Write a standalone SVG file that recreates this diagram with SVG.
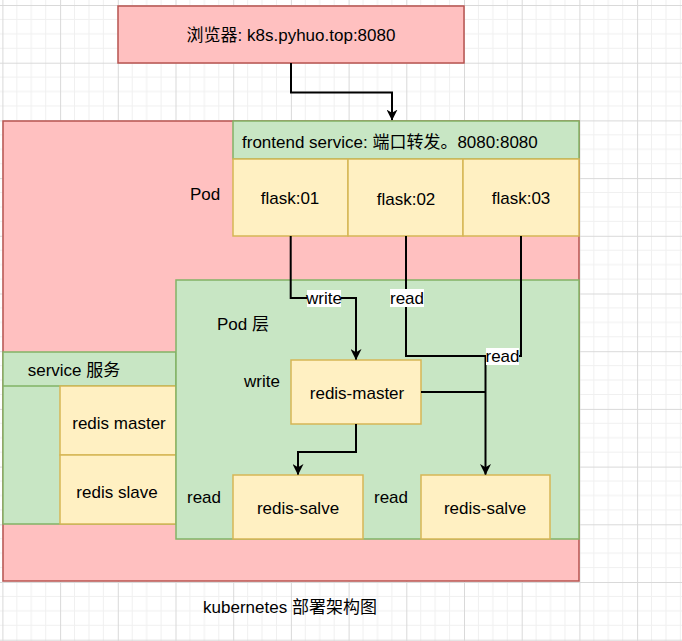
<svg xmlns="http://www.w3.org/2000/svg" width="682" height="641" viewBox="0 0 682 641">
<defs>
<pattern id="grid" patternUnits="userSpaceOnUse" x="2.4" y="5" width="57.7" height="57.7">
<path d="M14.42 0V57.7M28.85 0V57.7M43.27 0V57.7M0 14.42H57.7M0 28.85H57.7M0 43.27H57.7" stroke="#f0f0f0" stroke-width="1" fill="none"/>
<path d="M0.5 0V57.7M0 0.5H57.7" stroke="#d9d9d9" stroke-width="1" fill="none"/>
</pattern>
<marker id="arr" viewBox="0 0 10 10" refX="9.5" refY="5" markerWidth="11" markerHeight="11" markerUnits="userSpaceOnUse" orient="auto">
<path d="M0 0L10 5L0 10L3 5Z" fill="#000"/>
</marker>
<style>
.red{fill:#ffc0c0;stroke:#b85450;stroke-width:1.5}
.grn{fill:#c8e6c4;stroke:#82b366;stroke-width:1.5}
.yel{fill:#fff0c2;stroke:#d6b656;stroke-width:1.5}
text{font-family:"Liberation Sans","Noto Sans CJK SC",sans-serif;font-size:17px;fill:#000;dominant-baseline:central}
.c{text-anchor:middle}
.ln{fill:none;stroke:#000;stroke-width:2}
.lb{fill:#fff}
</style>
</defs>
<rect width="682" height="641" fill="#fff"/>
<rect width="682" height="641" fill="url(#grid)"/>

<g id="browser">
<rect class="red" x="118" y="6" width="346" height="57"/>
<text x="291" y="35" class="c">浏览器: k8s.pyhuo.top:8080</text>
</g>

<g id="k8s-cluster">
<rect class="red" x="3" y="121" width="576" height="460"/>
<text x="205" y="194" class="c">Pod</text>
</g>

<g id="frontend-service">
<rect class="grn" x="233" y="121" width="346" height="38"/>
<text x="242" y="142">frontend service: 端口转发。8080:8080</text>
</g>

<g id="flask01">
<rect class="yel" x="233" y="159" width="115" height="77"/>
<text x="290" y="198" class="c">flask:01</text>
</g>
<g id="flask02">
<rect class="yel" x="348" y="159" width="115" height="77"/>
<text x="406" y="199" class="c">flask:02</text>
</g>
<g id="flask03">
<rect class="yel" x="463" y="159" width="116" height="77"/>
<text x="521" y="198" class="c">flask:03</text>
</g>

<g id="service">
<rect class="grn" x="3" y="352" width="173" height="172"/>
<line x1="3" y1="386" x2="176" y2="386" stroke="#82b366" stroke-width="1.5"/>
<text x="74" y="370" class="c">service 服务</text>
</g>
<g id="svc-redis-master">
<rect class="yel" x="60" y="386" width="116" height="69"/>
<text x="119" y="423" class="c">redis master</text>
</g>
<g id="svc-redis-slave">
<rect class="yel" x="60" y="455" width="116" height="69"/>
<text x="117" y="492" class="c">redis slave</text>
</g>

<g id="pod-layer">
<rect class="grn" x="176" y="280" width="403" height="259"/>
<text x="243" y="324" class="c">Pod 层</text>
<text x="262" y="381" class="c">write</text>
<text x="204" y="497" class="c">read</text>
<text x="391" y="497" class="c">read</text>
</g>

<g id="redis-master">
<rect class="yel" x="291" y="360" width="130" height="64"/>
<text x="357" y="393" class="c">redis-master</text>
</g>
<g id="redis-salve-1">
<rect class="yel" x="233" y="475" width="130" height="64"/>
<text x="298" y="508" class="c">redis-salve</text>
</g>
<g id="redis-salve-2">
<rect class="yel" x="421" y="475" width="129" height="64"/>
<text x="485" y="508" class="c">redis-salve</text>
</g>

<g id="connectors">
<path class="ln" d="M291 63V92.5H392V120" marker-end="url(#arr)"/>
<path class="ln" d="M290.7 236V298H356V359.5" marker-end="url(#arr)"/>
<path class="ln" d="M406 236V356H485.5V474.5" marker-end="url(#arr)"/>
<path class="ln" d="M521 236V356H485.5"/>
<path class="ln" d="M421 392H485.5"/>
<path class="ln" d="M356 424V452H298V474.5" marker-end="url(#arr)"/>
<rect class="lb" x="307" y="290" width="34" height="17"/>
<text x="324" y="298.5" class="c">write</text>
<rect class="lb" x="390" y="289" width="34" height="18"/>
<text x="407" y="298" class="c">read</text>
<rect class="lb" x="486" y="348" width="33" height="17"/>
<text x="502.5" y="356.5" class="c">read</text>
</g>

<g id="caption">
<text x="290" y="607" class="c">kubernetes 部署架构图</text>
</g>
</svg>
